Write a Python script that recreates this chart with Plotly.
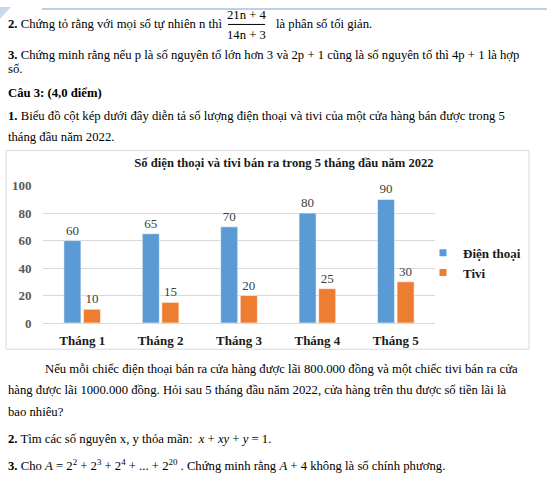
import plotly.graph_objects as go

# ---------------- data ----------------
months = ["Tháng 1", "Tháng 2", "Tháng 3", "Tháng 4", "Tháng 5"]
phones = [60, 65, 70, 80, 90]
tvs = [10, 15, 20, 25, 30]
series_names = ["Điện thoại", "Tivi"]
y_ticks = [0, 20, 40, 60, 80, 100]
chart_title = "Số điện thoại và tivi bán ra trong 5 tháng đầu năm 2022"

# ---------------- style ----------------
W, H = 547, 489
SERIF = "Liberation Serif"
BLUE = "#5B9BD5"
ORANGE = "#ED7D31"
GRID = "#D9D9D9"
BODY = 12.7


def px(x):
    return x / W


def py(y):
    return 1 - y / H


fig = go.Figure()

for name, vals, col in [(series_names[0], phones, BLUE), (series_names[1], tvs, ORANGE)]:
    fig.add_trace(go.Bar(
        x=months, y=vals, name=name, showlegend=False,
        marker=dict(color=col, line=dict(color="rgba(255,255,255,0.55)", width=1)),
        text=[str(v) for v in vals], texttemplate="%{text}", textposition="outside",
        textfont=dict(family=SERIF, size=13, color="#404040"),
        cliponaxis=False, hoverinfo="skip",
    ))
    fig.add_trace(go.Scatter(
        x=[None], y=[None], mode="markers", name="<b>" + name + "</b>",
        marker=dict(symbol="square", size=7, color=col), hoverinfo="skip",
    ))

fig.update_layout(
    width=W, height=H,
    margin=dict(l=0, r=0, t=0, b=0),
    paper_bgcolor="white", plot_bgcolor="white",
    font=dict(family=SERIF),
    barmode="group", bargap=0.5, bargroupgap=0.13,
    showlegend=True,
    legend=dict(
        x=px(423), y=py(238), xanchor="left", yanchor="top",
        font=dict(family=SERIF, size=13, color="#1a1a1a"),
        bgcolor="rgba(0,0,0,0)", itemwidth=30, tracegroupgap=0,
    ),
    title=dict(
        text="<b>" + chart_title + "</b>",
        x=px(284), y=py(163), xanchor="center", yanchor="middle",
        font=dict(family=SERIF, size=12.6, color="#1a1a1a"),
    ),
    xaxis=dict(
        domain=[px(43), px(435)],
        tickvals=months, ticktext=["<b>" + m + "</b>" for m in months],
        showgrid=False, showline=True, linecolor=GRID, linewidth=1,
        ticks="outside", ticklen=5, tickcolor="rgba(0,0,0,0)",
        tickfont=dict(family=SERIF, size=13, color="#1a1a1a"),
        fixedrange=True,
    ),
    yaxis=dict(
        domain=[py(326), py(184.3)],
        range=[0, 100], tickvals=y_ticks,
        ticktext=["<b>%d</b>" % v for v in y_ticks],
        showgrid=True, gridcolor=GRID, gridwidth=1, zeroline=False,
        showline=False,
        ticks="outside", ticklen=8, tickcolor="rgba(0,0,0,0)",
        tickfont=dict(family=SERIF, size=13, color="#595959"),
        fixedrange=True,
    ),
)

shapes = [
    dict(type="rect", xref="paper", yref="paper",
         x0=px(6), x1=px(529), y0=py(353), y1=py(148),
         line=dict(color=GRID, width=1), fillcolor="rgba(0,0,0,0)", layer="below"),
    dict(type="line", xref="paper", yref="paper",
         x0=px(42), x1=px(547), y0=py(2), y1=py(2),
         line=dict(color="#A7C1DE", width=1.5)),
    dict(type="path", xref="paper", yref="paper",
         path=f"M {px(0)},{py(0)} L {px(11)},{py(0)} L {px(0)},{py(12)} Z",
         fillcolor="#C5D8EE", line=dict(width=0)),
    dict(type="line", xref="paper", yref="paper",
         x0=px(228), x1=px(265), y0=py(18), y1=py(18),
         line=dict(color="black", width=1)),
]
fig.update_layout(shapes=shapes)


def txt(x, y, s, size=BODY, anchor="left"):
    fig.add_annotation(
        xref="paper", yref="paper", x=px(x), y=py(y), text=s,
        showarrow=False, xanchor=anchor, yanchor="middle",
        font=dict(family=SERIF, size=size, color="black"),
    )


txt(6, 18, "<b>2.</b> Chứng tỏ rằng với mọi số tự nhiên n thì")
txt(246.5, 8, "21n + 4", anchor="center")
txt(246.5, 29, "14n + 3", anchor="center")
txt(274, 18, "là phân số tối giản.")
txt(6, 50, "<b>3.</b> Chứng minh rằng nếu p là số nguyên tố lớn hơn 3 và 2p + 1 cũng là số nguyên tố thì 4p + 1 là hợp")
txt(6, 64, "số.")
txt(6, 89, "<b>Câu 3: (4,0 điểm)</b>")
txt(6, 112, "<b>1.</b> Biểu đồ cột kép dưới đây diễn tả số lượng điện thoại và tivi của một cửa hàng bán được trong 5")
txt(6, 134, "tháng đầu năm 2022.")

txt(43, 373, "Nếu mỗi chiếc điện thoại bán ra cửa hàng được lãi 800.000 đồng và một chiếc tivi bán ra cửa")
txt(6, 395, "hàng được lãi 1000.000 đồng. Hỏi sau 5 tháng đầu năm 2022, cửa hàng trên thu được số tiền lãi là")
txt(6, 418, "bao nhiêu?")
txt(6, 446, "<b>2.</b> Tìm các số nguyên x, y thỏa mãn:  <i>x</i> + <i>xy</i> + <i>y</i> = 1.")
txt(6, 473, "<b>3.</b> Cho <i>A</i> = 2<sup>2</sup> + 2<sup>3</sup> + 2<sup>4</sup> + ... + 2<sup>20</sup> . "
            "Chứng minh rằng <i>A</i> + 4 không là số chính phương.")

fig.write_html(
    "out.html",
    config={"displayModeBar": False, "staticPlot": True},
    post_script="document.body.style.margin='0';document.body.style.overflow='hidden';",
)
